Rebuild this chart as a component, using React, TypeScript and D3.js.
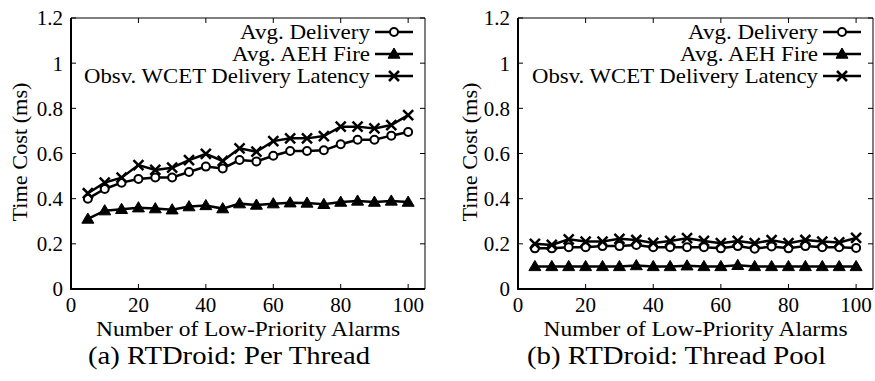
import React from "react";
import * as d3 from "d3";

// Number of low-priority alarms on the x axis
const alarmCounts = [5, 10, 15, 20, 25, 30, 35, 40, 45, 50, 55, 60, 65, 70, 75, 80, 85, 90, 95, 100];

// (a) RTDroid: Per Thread
const perThreadDelivery = [0.40, 0.443, 0.471, 0.487, 0.494, 0.494, 0.518, 0.542, 0.534, 0.571, 0.565, 0.59, 0.611, 0.611, 0.614, 0.641, 0.661, 0.661, 0.679, 0.695];
const perThreadAehFire = [0.31, 0.347, 0.353, 0.36, 0.356, 0.351, 0.365, 0.37, 0.356, 0.378, 0.372, 0.378, 0.382, 0.381, 0.375, 0.385, 0.39, 0.385, 0.39, 0.385];
const perThreadWcet = [0.424, 0.471, 0.493, 0.549, 0.527, 0.537, 0.571, 0.598, 0.567, 0.623, 0.608, 0.655, 0.667, 0.667, 0.677, 0.719, 0.719, 0.711, 0.726, 0.77];

// (b) RTDroid: Thread Pool
const poolDelivery = [0.18, 0.18, 0.185, 0.185, 0.19, 0.19, 0.195, 0.185, 0.185, 0.185, 0.185, 0.18, 0.19, 0.178, 0.188, 0.18, 0.19, 0.185, 0.185, 0.182];
const poolAehFire = [0.1, 0.1, 0.1, 0.1, 0.1, 0.1, 0.104, 0.1, 0.1, 0.103, 0.1, 0.1, 0.105, 0.1, 0.1, 0.1, 0.1, 0.1, 0.1, 0.1];
const poolWcet = [0.2, 0.195, 0.22, 0.21, 0.21, 0.222, 0.217, 0.204, 0.213, 0.225, 0.213, 0.203, 0.213, 0.203, 0.216, 0.203, 0.217, 0.21, 0.206, 0.226];

const seriesNames = ["Avg. Delivery", "Avg. AEH Fire", "Obsv. WCET Delivery Latency"];
const markerKinds = ["circle", "triangle", "cross"];

const xTicks = [0, 20, 40, 60, 80, 100];
const yTicks = [0, 0.2, 0.4, 0.6, 0.8, 1, 1.2];

const xTitle = "Number of Low-Priority Alarms";
const yTitle = "Time Cost (ms)";

const FONT = "'Liberation Serif', 'Times New Roman', serif";

function Marker({ kind, x, y }: { kind: string; x: number; y: number }) {
  if (kind === "circle") {
    return <circle cx={x} cy={y} r={4} fill="#fff" stroke="#000" strokeWidth={2} />;
  }
  if (kind === "triangle") {
    const s = 6;
    return (
      <path
        d={`M${x},${y - s}L${x + s},${y + s * 0.7}L${x - s},${y + s * 0.7}Z`}
        fill="#000"
        stroke="#000"
        strokeWidth={1}
      />
    );
  }
  const c = 5;
  return (
    <path
      d={`M${x - c},${y - c}L${x + c},${y + c}M${x - c},${y + c}L${x + c},${y - c}`}
      stroke="#000"
      strokeWidth={2.5}
      fill="none"
    />
  );
}

function Panel({
  left,
  right,
  series,
  caption,
  captionWidth,
  titleX,
}: {
  left: number;
  right: number;
  series: number[][];
  caption: string;
  captionWidth: number;
  titleX: number;
}) {
  const top = 18;
  const bottom = 289;
  const x = d3.scaleLinear().domain([0, 105]).range([left, right]);
  const y = d3.scaleLinear().domain([0, 1.2]).range([bottom, top]);
  const line = d3
    .line<[number, number]>()
    .x((d) => x(d[0]))
    .y((d) => y(d[1]));
  const tickLen = 5;
  const legendRight = right - 55;
  const legendLineX0 = right - 50;
  const legendLineX1 = right - 12;
  const rowY = [32, 54, 76];
  const legendWidths = [130, 138, 286];

  return (
    <g fontFamily={FONT} fill="#000">
      {/* frame */}
      <line x1={left} x2={right} y1={top} y2={top} stroke="#000" strokeWidth={1} />
      <line x1={right} x2={right} y1={top} y2={bottom} stroke="#000" strokeWidth={1} />
      <line x1={left} x2={left} y1={top} y2={bottom + 1} stroke="#000" strokeWidth={2} />
      <line x1={left - 1} x2={right} y1={bottom} y2={bottom} stroke="#000" strokeWidth={2} />

      {/* y ticks */}
      {yTicks.map((t) => (
        <g key={"y" + t}>
          <line x1={left} x2={left + tickLen} y1={y(t)} y2={y(t)} stroke="#000" strokeWidth={1} />
          <line x1={right} x2={right - tickLen} y1={y(t)} y2={y(t)} stroke="#000" strokeWidth={1} />
          <text x={left - 8} y={y(t)} dy="0.35em" textAnchor="end" fontSize={21}>
            {d3.format("~g")(t)}
          </text>
        </g>
      ))}

      {/* x ticks */}
      {xTicks.map((t) => (
        <g key={"x" + t}>
          <line x1={x(t)} x2={x(t)} y1={bottom} y2={bottom - tickLen} stroke="#000" strokeWidth={1} />
          <line x1={x(t)} x2={x(t)} y1={top} y2={top + tickLen} stroke="#000" strokeWidth={1} />
          <text x={x(t)} y={312} textAnchor="middle" fontSize={21}>
            {t}
          </text>
        </g>
      ))}

      {/* axis titles */}
      <text
        x={(left + right) / 2}
        y={336}
        textAnchor="middle"
        fontSize={21}
        textLength={304}
        lengthAdjust="spacingAndGlyphs"
      >
        {xTitle}
      </text>
      <text
        transform={`translate(${titleX},152) rotate(-90)`}
        textAnchor="middle"
        fontSize={21}
        textLength={139}
        lengthAdjust="spacingAndGlyphs"
      >
        {yTitle}
      </text>

      {/* caption */}
      <text
        x={(left + right) / 2 - 19}
        y={364}
        textAnchor="middle"
        fontSize={25}
        textLength={captionWidth}
        lengthAdjust="spacingAndGlyphs"
      >
        {caption}
      </text>

      {/* series */}
      {series.map((vals, si) => {
        const pts = alarmCounts.map((c, i) => [c, vals[i]] as [number, number]);
        return (
          <g key={"s" + si}>
            <path d={line(pts) ?? ""} fill="none" stroke="#000" strokeWidth={2.5} />
            {pts.map((p, i) => (
              <Marker key={i} kind={markerKinds[si]} x={x(p[0])} y={y(p[1])} />
            ))}
          </g>
        );
      })}

      {/* legend */}
      {seriesNames.map((name, i) => (
        <g key={"l" + i}>
          <text
            x={legendRight}
            y={rowY[i]}
            dy="0.35em"
            textAnchor="end"
            fontSize={21}
            textLength={legendWidths[i]}
            lengthAdjust="spacingAndGlyphs"
          >
            {name}
          </text>
          <line x1={legendLineX0} x2={legendLineX1} y1={rowY[i]} y2={rowY[i]} stroke="#000" strokeWidth={2.5} />
          <Marker kind={markerKinds[i]} x={(legendLineX0 + legendLineX1) / 2} y={rowY[i]} />
        </g>
      ))}
    </g>
  );
}

export default function App() {
  return (
    <svg
      width={875}
      height={381}
      style={{ position: "absolute", left: 0, top: 0, background: "#fff" }}
    >
      <rect width={875} height={381} fill="#fff" />
      <Panel
        left={71}
        right={425}
        series={[perThreadDelivery, perThreadAehFire, perThreadWcet]}
        caption="(a) RTDroid: Per Thread"
        captionWidth={282}
        titleX={27}
      />
      <Panel
        left={518}
        right={873}
        series={[poolDelivery, poolAehFire, poolWcet]}
        caption="(b) RTDroid: Thread Pool"
        captionWidth={299}
        titleX={477}
      />
    </svg>
  );
}
